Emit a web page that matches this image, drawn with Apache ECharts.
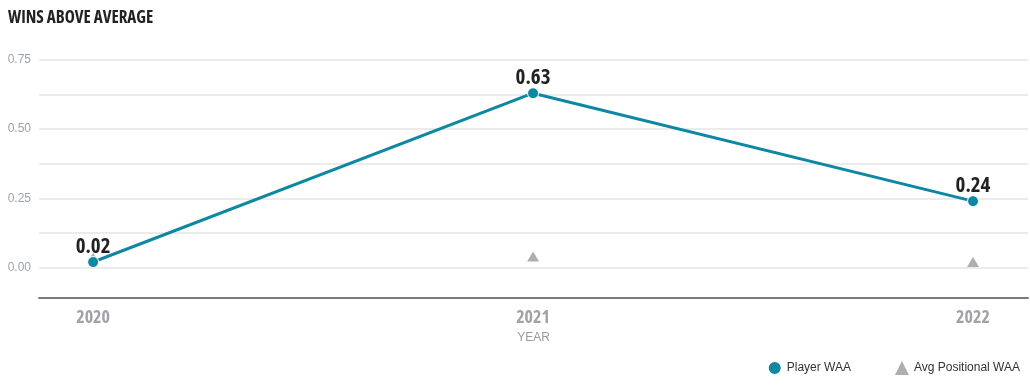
<!DOCTYPE html>
<html>
<head>
<meta charset="utf-8">
<script src="https://cdn.jsdelivr.net/npm/echarts@6/dist/echarts.min.js"></script>
<style>
html,body{margin:0;padding:0;background:#fff;}
#chart{width:1030px;height:387px;}
</style>
</head>
<body>
<div id="chart"></div>
<script>
const years = [2020, 2021, 2022];
const playerWAA = [0.02, 0.63, 0.24];
const avgPositionalWAA = [0.035, 0.04, 0.02];
const yLabelTicks = [0, 0.25, 0.5, 0.75];
const yGridTicks = [0, 0.125, 0.25, 0.375, 0.5, 0.625, 0.75];

const condensed = '"Open Sans","DejaVu Sans",sans-serif';
const condWeight = 'bold condensed';
const plain = 'Arial, "Liberation Sans", sans-serif';
const chart = echarts.init(document.getElementById('chart'));
chart.setOption({
  animation: false,
  title: {
    text: 'WINS ABOVE AVERAGE', left: 3, top: 5,
    textStyle: { fontFamily: condensed, fontWeight: condWeight, fontSize: 17, color: '#222' }
  },
  legend: {
    right: 5, bottom: 6, itemGap: 44, itemWidth: 14, itemHeight: 14,
    textStyle: { fontFamily: plain, fontSize: 12, color: '#333' },
    data: [
      { name: 'Player WAA', icon: 'circle', itemStyle: { color: '#0e87a3' } },
      { name: 'Avg Positional WAA', icon: 'triangle', itemStyle: { color: '#9a9a9e' } }
    ]
  },
  grid: { left: 39, right: 2, top: 60, bottom: 89 },
  xAxis: {
    type: 'value', min: 2019.877, max: 2022.125,
    axisLine: { show: true, onZero: false, lineStyle: { color: '#7a7a7a', width: 2 } },
    axisTick: { show: false },
    splitLine: { show: false },
    axisLabel: {
      customValues: years, formatter: v => String(Math.round(v)), margin: 11,
      fontFamily: condensed, fontWeight: condWeight, fontSize: 18, color: '#a0a2a8'
    },
    name: 'YEAR', nameLocation: 'middle', nameGap: 24,
    nameTextStyle: { fontFamily: plain, fontSize: 12, color: '#9a9a9e' }
  },
  yAxis: {
    type: 'value', min: -0.11, max: 0.75,
    axisLine: { show: false },
    axisTick: { show: false, customValues: yGridTicks },
    splitLine: { show: true, lineStyle: { color: '#ebebeb', width: 2 } },
    axisLabel: {
      customValues: yLabelTicks, formatter: v => v.toFixed(2), margin: 8,
      fontFamily: plain, fontSize: 12, color: '#9aa3ad'
    }
  },
  series: [
    {
      name: 'Avg Positional WAA', type: 'scatter', symbol: 'triangle', symbolSize: [12, 10],
      itemStyle: { color: '#9a9a9e' }, z: 2,
      data: years.map((y, i) => [y, avgPositionalWAA[i]])
    },
    {
      name: 'Player WAA', type: 'line', symbol: 'circle', symbolSize: 11, z: 3,
      lineStyle: { color: '#0e87a3', width: 3 },
      itemStyle: { color: '#0e87a3', borderColor: '#fff', borderWidth: 1 },
      label: {
        show: true, position: 'top', distance: -1, formatter: p => p.value[1].toFixed(2),
        fontFamily: condensed, fontWeight: condWeight, fontSize: 21, color: '#222'
      },
      data: years.map((y, i) => [y, playerWAA[i]])
    }
  ]
});
</script>
</body>
</html>
